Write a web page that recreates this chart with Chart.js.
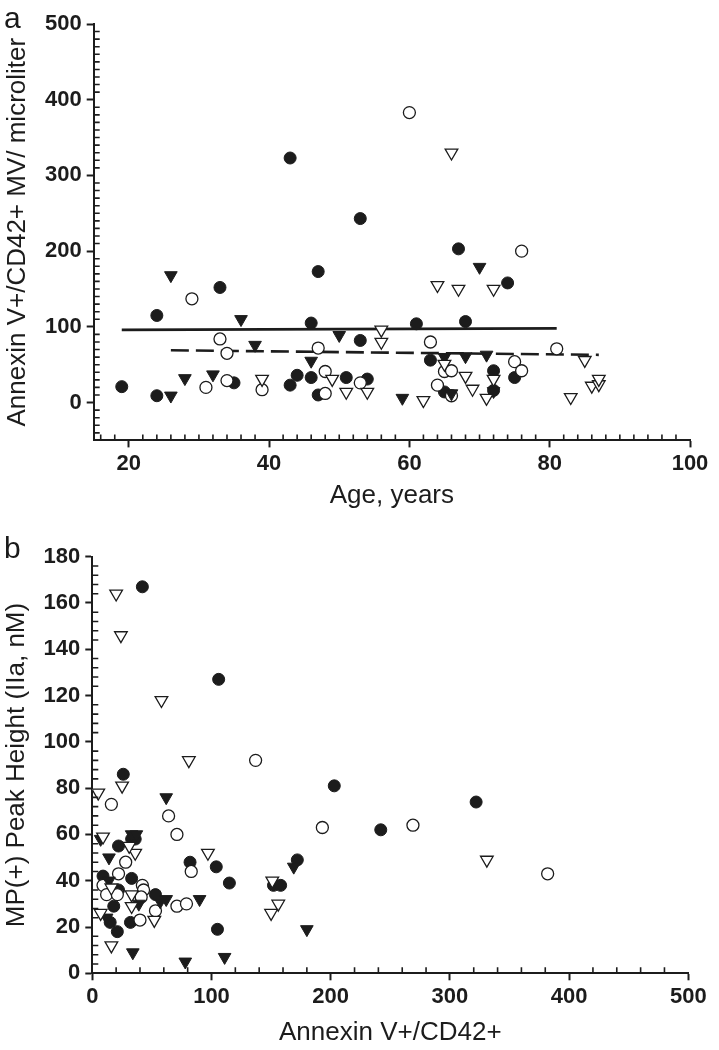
<!DOCTYPE html>
<html>
<head>
<meta charset="utf-8">
<script src="https://cdn.jsdelivr.net/npm/chart.js@4.4.1/dist/chart.umd.min.js"></script>
<style>
    body { margin: 0; background: #fff; width: 719px; height: 1050px; position: relative; font-family: "Liberation Sans", Arial, sans-serif; }
    .panel { position: absolute; left: 0; width: 719px; height: 525px; }
    .tag { position: absolute; left: 4px; font-size: 30px; line-height: 30px; color: #1a1a1a; }
</style>
</head>
<body>
<div class="panel" style="top:0"><canvas id="chartA" width="719" height="525"></canvas></div>
<div class="panel" style="top:525px"><canvas id="chartB" width="719" height="525"></canvas></div>
<div class="tag" style="top:3px">a</div>
<div class="tag" style="top:533px">b</div>
<script>
// panel a : age vs annexin V+/CD42+ MV per microliter
var ageFilledCircles = [[19,21],[24,9],[24,115],[33,152],[35,26],[43,323],[43,23],[44,36],[46,105],[46,33],[47,173],[47,10],[51,33],[53,243],[53,82],[54,31],[61,104],[63,56],[65,14],[67,203],[68,107],[72,42],[72,16],[74,158],[75,33]];
var ageOpenCircles = [[29,137],[31,20],[33,84],[34,65],[34,29],[39,17],[47,72],[48,41],[48,12],[53,26],[60,383],[63,80],[64,23],[65,41],[66,42],[66,9],[75,54],[76,42],[76,200],[81,71]];
var ageFilledTriangles = [[26,168],[26,9],[28,32],[32,37],[36,110],[38,76],[46,55],[50,89],[59,6],[65,60],[66,12],[68,61],[70,179],[71,63],[72,15]];
var ageOpenTriangles = [[39,31],[49,31],[51,14],[54,14],[56,96],[56,80],[62,3],[64,155],[65,51],[66,330],[67,150],[68,35],[69,18],[71,6],[72,150],[72,31],[83,7],[85,56],[86,22],[87,24],[87,31]];
var fitCircles = [[19,96],[81,98]];
var fitTriangles = [[26,69],[87,63]];
var ageTicks = [20,40,60,80,100];
var mvTicks = [0,100,200,300,400,500];

// panel b : annexin V+/CD42+ vs MP(+) peak height
var mpFilledCircles = [[42,167],[106,127],[26,86],[203,81],[242,62],[322,74],[172,49],[152,38],[158,38],[115,39],[104,46],[105,19],[82,48],[33,58],[36,58],[22,55],[9,42],[33,41],[22,36],[18,29],[15,22],[21,18],[32,22],[53,34]];
var mpOpenCircles = [[137,92],[193,63],[269,64],[382,43],[16,73],[64,68],[71,60],[83,44],[71,29],[79,30],[28,48],[22,43],[9,38],[12,34],[21,34],[42,38],[43,36],[41,33],[40,23],[53,27]];
var mpFilledTriangles = [[62,76],[7,58],[14,50],[33,60],[37,60],[90,32],[62,32],[57,31],[39,30],[34,9],[78,5],[111,7],[180,19],[169,46],[12,24],[14,40]];
var mpOpenTriangles = [[20,164],[24,146],[58,118],[81,92],[5,78],[25,81],[9,59],[36,52],[31,55],[97,52],[151,40],[156,30],[150,26],[331,49],[7,26],[16,12],[52,23],[33,29],[33,34],[16,37]];
var annexinTicks = [0,100,200,300,400,500];
var mpTicks = [0,20,40,60,80,100,120,140,160,180];

var ink = '#1c1c1c';
Chart.defaults.font.family = '"Liberation Sans", Arial, sans-serif';
Chart.defaults.color = ink;

function pts(list) {
    return list.map(function (p) { return { x: p[0], y: p[1] }; });
}

function markerSet(list, style, filled) {
    return {
        data: pts(list),
        pointStyle: style,
        rotation: style === 'triangle' ? 180 : 0,
        pointRadius: style === 'triangle' ? 7.3 : 6,
        backgroundColor: filled ? ink : '#fff',
        borderColor: ink,
        borderWidth: filled ? 1 : 1.3,
        order: 1
    };
}

function fitLine(list, dash) {
    return {
        data: pts(list),
        showLine: true,
        pointRadius: 0,
        borderColor: ink,
        borderWidth: 2.6,
        borderDash: dash,
        order: 5
    };
}

function axisOptions(min, max, majors, title, titlePadding, size, horizontal) {
    return {
        type: 'linear',
        min: min,
        max: max,
        border: { display: true, color: ink, width: 2 },
        grid: { drawOnChartArea: false, drawTicks: true, tickLength: 7, tickWidth: 2, tickColor: ink },
        ticks: { padding: horizontal ? 3 : 5, font: { size: 22, weight: 'bold' }, color: ink, maxRotation: 0, autoSkip: false },
        title: { display: true, text: title, font: { size: 26 }, color: ink, padding: titlePadding },
        afterBuildTicks: function (scale) {
            scale.ticks = majors.map(function (v) { return { value: v }; });
        },
        afterFit: function (scale) {
            if (horizontal) scale.height = size; else scale.width = size;
        }
    };
}

// small inward ticks between the labelled ones
function minorList(scale, step) {
    var out = [];
    var majors = scale.ticks.map(function (t) { return t.value; });
    for (var i = Math.ceil(scale.min / step); i * step < scale.max; i++) {
        var v = i * step;
        if (v !== scale.min && majors.indexOf(v) < 0) out.push(v);
    }
    return out;
}

var minorTicks = {
    id: 'minorTicks',
    afterDraw: function (chart, args, opts) {
        var ctx = chart.ctx, xs = chart.scales.x, ys = chart.scales.y;
        ctx.save();
        ctx.strokeStyle = ink;
        ctx.lineWidth = 1.6;
        ctx.beginPath();
        minorList(xs, opts.x).forEach(function (v) {
            var p = xs.getPixelForValue(v);
            ctx.moveTo(p, ys.bottom);
            ctx.lineTo(p, ys.bottom - 6);
        });
        minorList(ys, opts.y).forEach(function (v) {
            var p = ys.getPixelForValue(v);
            ctx.moveTo(xs.left, p);
            ctx.lineTo(xs.left + 6, p);
        });
        ctx.stroke();
        ctx.restore();
    }
};

function baseOptions(padding, xAxis, yAxis, minor) {
    return {
        responsive: false,
        animation: false,
        devicePixelRatio: 1,
        layout: { padding: padding },
        plugins: { legend: { display: false }, tooltip: { enabled: false }, minorTicks: minor },
        scales: { x: xAxis, y: yAxis }
    };
}

new Chart(document.getElementById('chartA'), {
    type: 'scatter',
    data: {
        datasets: [
            fitLine(fitCircles, []),
            fitLine(fitTriangles, [18, 7]),
            markerSet(ageOpenTriangles, 'triangle', false),
            markerSet(ageFilledTriangles, 'triangle', true),
            markerSet(ageOpenCircles, 'circle', false),
            markerSet(ageFilledCircles, 'circle', true)
        ]
    },
    options: baseOptions(
        { left: 0, right: 29, top: 24, bottom: 0 },
        axisOptions(15, 100, ageTicks, 'Age, years', { top: 0, bottom: 14 }, 84.6, true),
        axisOptions(-50, 500, mvTicks, 'Annexin V+/CD42+ MV/ microliter', { top: 2.4, bottom: 0 }, 93.7, false),
        { x: 2, y: 10 }
    ),
    plugins: [minorTicks]
});

new Chart(document.getElementById('chartB'), {
    type: 'scatter',
    data: {
        datasets: [
            markerSet(mpOpenTriangles, 'triangle', false),
            markerSet(mpFilledTriangles, 'triangle', true),
            markerSet(mpOpenCircles, 'circle', false),
            markerSet(mpFilledCircles, 'circle', true)
        ]
    },
    options: baseOptions(
        { left: 0, right: 30.7, top: 31.7, bottom: 0 },
        axisOptions(0, 500, annexinTicks, 'Annexin V+/CD42+', { top: 0, bottom: 1.4 }, 76.7, true),
        axisOptions(0, 180, mpTicks, 'MP(+) Peak Height (IIa, nM)', { top: 1, bottom: 0 }, 92.3, false),
        { x: 20, y: 4 }
    ),
    plugins: [minorTicks]
});
</script>
</body>
</html>
